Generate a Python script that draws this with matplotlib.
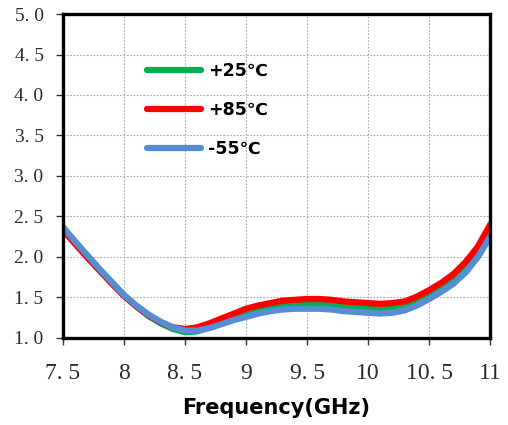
import matplotlib
matplotlib.use("Agg")
import matplotlib.pyplot as plt

freq = [7.5, 7.6, 7.7, 7.8, 7.9, 8.0, 8.1, 8.2, 8.3, 8.4, 8.5, 8.6, 8.7, 8.8, 8.9,
        9.0, 9.1, 9.2, 9.3, 9.4, 9.5, 9.6, 9.7, 9.8, 9.9, 10.0, 10.1, 10.2, 10.3,
        10.4, 10.5, 10.6, 10.7, 10.8, 10.9, 11.0]

vswr_25 = [2.35, 2.18, 2.01, 1.84, 1.68, 1.52, 1.39, 1.27, 1.18, 1.11, 1.07, 1.08, 1.13, 1.19, 1.25,
           1.31, 1.35, 1.38, 1.41, 1.42, 1.43, 1.43, 1.42, 1.40, 1.39, 1.38, 1.37, 1.38, 1.40,
           1.46, 1.54, 1.63, 1.74, 1.88, 2.07, 2.33]
vswr_85 = [2.33, 2.16, 1.99, 1.83, 1.67, 1.52, 1.39, 1.28, 1.19, 1.13, 1.11, 1.13, 1.18, 1.24, 1.30,
           1.36, 1.40, 1.43, 1.46, 1.47, 1.48, 1.48, 1.47, 1.45, 1.44, 1.43, 1.42, 1.43, 1.45,
           1.51, 1.59, 1.68, 1.79, 1.94, 2.13, 2.40]
vswr_m55 = [2.37, 2.19, 2.02, 1.85, 1.69, 1.53, 1.40, 1.29, 1.20, 1.13, 1.09, 1.09, 1.12, 1.17, 1.22,
            1.26, 1.30, 1.33, 1.35, 1.36, 1.36, 1.36, 1.35, 1.33, 1.32, 1.31, 1.30, 1.31, 1.34,
            1.40, 1.48, 1.57, 1.67, 1.81, 2.00, 2.25]

series_labels = ["+25\u2103", "+85\u2103", "-55\u2103"]
series_colors = ["#00B050", "#FF0000", "#558ED5"]

x_ticks = [7.5, 8, 8.5, 9, 9.5, 10, 10.5, 11]
x_tick_labels = ["7. 5", "8", "8. 5", "9", "9. 5", "10", "10. 5", "11"]
y_ticks = [1.0, 1.5, 2.0, 2.5, 3.0, 3.5, 4.0, 4.5, 5.0]
y_tick_labels = ["1. 0", "1. 5", "2. 0", "2. 5", "3. 0", "3. 5", "4. 0", "4. 5", "5. 0"]

label_fam = ["DejaVu Sans", "Noto Sans CJK SC"]

fig = plt.figure(figsize=(5.08, 4.25), dpi=100)
ax = fig.add_axes([0.124, 0.205, 0.841, 0.762])

for vals, lab, col in zip([vswr_25, vswr_85, vswr_m55], series_labels, series_colors):
    ax.plot(freq, vals, color=col, lw=4.5, label=lab, solid_capstyle="round")

ax.set_xlim(7.5, 11)
ax.set_ylim(1.0, 5.0)
ax.set_xticks(x_ticks)
ax.set_xticklabels(x_tick_labels, fontfamily="Liberation Serif", fontsize=17, color="#2a2a2a")
ax.set_yticks(y_ticks)
ax.set_yticklabels(y_tick_labels, fontfamily="Liberation Serif", fontsize=14, color="#2a2a2a")
ax.tick_params(axis="both", direction="out", length=5, width=1, color="#333333")
ax.tick_params(axis="x", pad=13)
ax.tick_params(axis="y", pad=9)

ax.grid(True, color="#aaaaaa", linestyle=(0, (1.5, 1.5)), lw=0.8)
ax.set_axisbelow(True)
for s in ax.spines.values():
    s.set_linewidth(2.4)
    s.set_color("black")

ax.set_xlabel("Frequency(GHz)", fontsize=15, fontweight="bold",
              fontfamily=label_fam, labelpad=10)

leg = ax.legend(loc="upper left", bbox_to_anchor=(0.197, 0.852), frameon=False,
                borderpad=0, borderaxespad=0, handlelength=3.1, handletextpad=0.4,
                labelspacing=1.22,
                prop={"family": label_fam, "weight": "bold", "size": 12.5})

fig.savefig("out.png", dpi=100)
